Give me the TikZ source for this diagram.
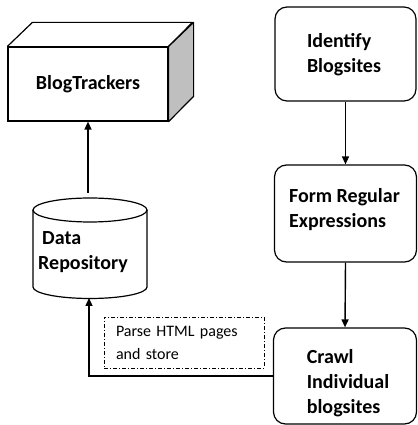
\documentclass[tikz,border=0pt]{standalone}
\usepackage{fontspec}
\setmainfont{Carlito}
\usetikzlibrary{arrows.meta,calc}
\begin{document}
\begin{tikzpicture}[x=1pt,y=1pt,
  outline/.style={line width=1.2pt},
  flowbox/.style={draw, rounded corners=12pt, outline},
  boldtxt/.style={font=\fontsize{20}{25}\selectfont\bfseries, align=left, inner sep=0pt},
  notebox/.style={draw, line width=0.6pt, dash pattern=on 4pt off 2pt on 1pt off 2pt,
    font=\fontsize{16}{23}\selectfont, align=left, text width=136pt, inner xsep=12pt, inner ysep=0pt},
  flow/.style={line width=1.4pt, -{Triangle[length=8pt,width=7pt]}}]
\useasboundingbox (0,0) rectangle (417,425);

% BlogTrackers block (front face, top face, shaded side)
\node[draw, outline, minimum width=160pt, minimum height=74pt, inner sep=0pt,
  font=\fontsize{20}{25}\selectfont\bfseries] (trk) at (88,341) {BlogTrackers};
\draw[outline, line join=round]
  (trk.north west) -- ++(25,24) -- ++(160,0) -- (trk.north east);
\draw[outline, line join=round, fill=black!25]
  (trk.north east) -- ++(25,24) -- ++(0,-74) -- (trk.south east) -- cycle;

% Data Repository cylinder
\coordinate (repotop) at (90,227);
\coordinate (repobot) at (89,127);
\draw[outline] (33,215) -- (33,138) arc[start angle=180, end angle=360, x radius=57, y radius=11.5] -- (147,215);
\draw[outline] (90,215) ellipse[x radius=57, y radius=12];
\node[boldtxt] (repo) at (83,173) {\hspace*{4pt}Data\\Repository};

% Process steps
\node[flowbox, minimum width=141pt, minimum height=94pt] (ident) at (345.5,371) {};
\node[boldtxt] (identtxt) at (344,370) {Identify\\Blogsites};

\node[flowbox, minimum width=142pt, minimum height=97pt] (form) at (345.5,211.5) {};
\node[boldtxt] (formtxt) at (344.5,215) {Form Regular\\Expressions};

\node[flowbox, minimum width=143pt, minimum height=96pt] (crawl) at (345,49) {};
\node[boldtxt] (crawltxt) at (348,42) {Crawl\\Individual\\blogsites};

% Annotation on the storing step
\node[notebox, minimum height=51pt] (parse) at (184,82.5) {Parse HTML pages\\and store};

% Connectors
\draw[flow] (ident.south) -- (form.north);
\draw[flow] (form.south) -- (crawl.north);
\draw[flow] (crawl.west) -| (repobot);
\draw[flow] ($(repotop)+(-2,5)$) -- (trk.south);
\end{tikzpicture}
\end{document}
